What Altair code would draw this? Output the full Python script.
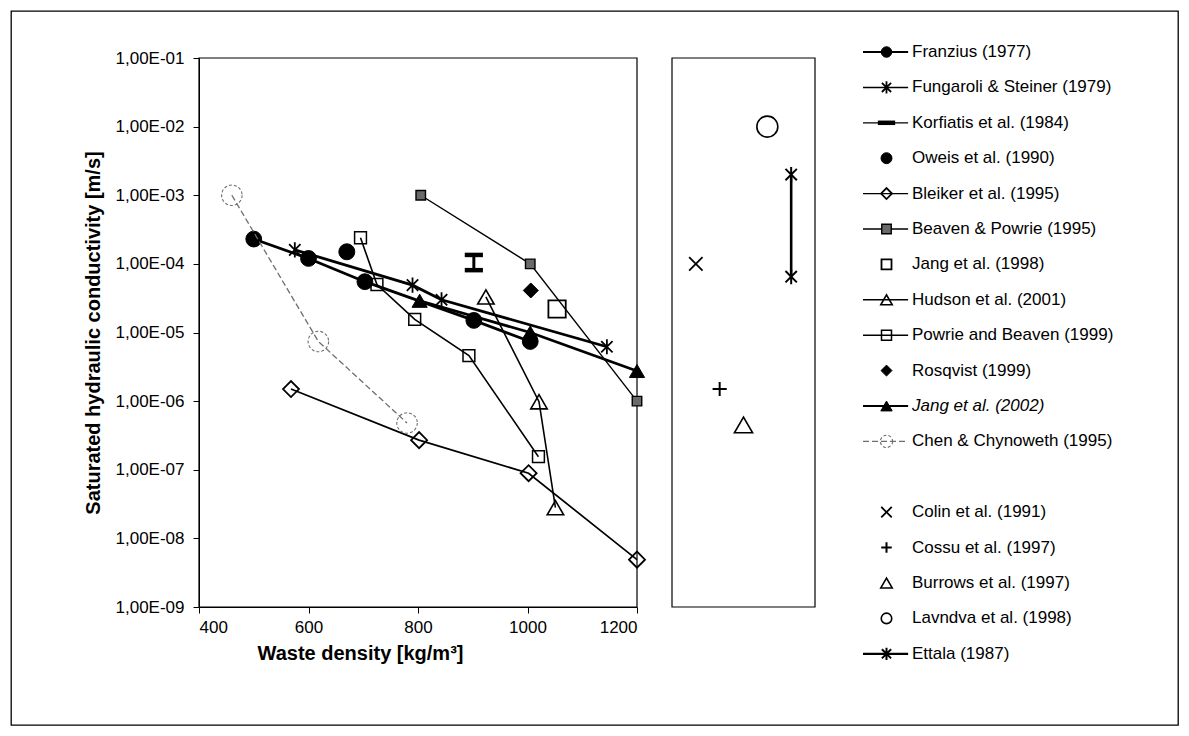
import altair as alt
import pandas as pd

# ---------------- data ----------------
franzius_rho = [500, 600, 703, 902, 1005]
franzius_k = [2.3e-4, 1.2e-4, 5.5e-5, 1.5e-5, 7.4e-6]
fungaroli_rho = [575, 790, 843, 1145]
fungaroli_k = [1.6e-4, 4.9e-5, 3.0e-5, 6.2e-6]
korfiatis_rho = [902, 902]
korfiatis_k = [1.35e-4, 8.1e-5]
oweis_rho = [670]
oweis_k = [1.5e-4]
bleiker_rho = [568, 802, 1002, 1200]
bleiker_k = [1.5e-6, 2.7e-7, 8.9e-8, 4.9e-9]
beaven_rho = [805, 1005, 1200]
beaven_k = [1.0e-3, 1.0e-4, 1.0e-6]
jang98_rho = [1054]
jang98_k = [2.2e-5]
hudson_rho = [924, 1021, 1051]
hudson_k = [3.3e-5, 9.8e-7, 2.8e-8]
powrie_rho = [695, 725, 794, 893, 1020]
powrie_k = [2.4e-4, 5.0e-5, 1.55e-5, 4.6e-6, 1.55e-7]
rosqvist_rho = [1006]
rosqvist_k = [4.1e-5]
jang02_rho = [803, 1005, 1200]
jang02_k = [2.9e-5, 1.0e-5, 2.75e-6]
chen_rho = [460, 618, 780]
chen_k = [1.0e-3, 7.4e-6, 4.8e-7]

# right panel (no density given): one column per study
colin_k = [1.0e-4]
cossu_k = [1.5e-6]
burrows_k = [4.5e-7]
lavndva_k = [1.0e-2]
ettala_k = [2.0e-3, 6.5e-5]

x_ticks = [400, 600, 800, 1000, 1200]
y_ticks = [1e-9, 1e-8, 1e-7, 1e-6, 1e-5, 1e-4, 1e-3, 1e-2, 1e-1]

# ---------------- styling ----------------
FONT = "Liberation Sans"
W, H = 1167, 714
STAR = "M-0.75,-0.75L0.75,0.75M-0.75,0.75L0.75,-0.75M0,-1L0,1"
XMARK = "M-1,-1L1,1M-1,1L1,-1"
PLUS = "M-1,0L1,0M0,-1L0,1"
DASH = "M-1,0L1,0"

main_series = [
    ("Franzius (1977)", franzius_rho, franzius_k,
     dict(lw=2.8, llw=2.0, shape="circle", fill="black", size=250, lsize=110)),
    ("Fungaroli & Steiner (1979)", fungaroli_rho, fungaroli_k,
     dict(lw=2.8, llw=1.5, shape=STAR, size=230, sw=1.8, lsize=150)),
    ("Korfiatis et al. (1984)", korfiatis_rho, korfiatis_k,
     dict(lw=3, llw=1.2, shape=DASH, size=330, sw=4.5, lsize=300)),
    ("Oweis et al. (1990)", oweis_rho, oweis_k,
     dict(lw=0, shape="circle", fill="black", size=256, lsize=120)),
    ("Bleiker et al. (1995)", bleiker_rho, bleiker_k,
     dict(lw=1.7, llw=1.4, shape="diamond", size=256, sw=1.8, lsize=120)),
    ("Beaven & Powrie (1995)", beaven_rho, beaven_k,
     dict(lw=1.4, llw=1.3, shape="square", fill="#6a6a6a", size=90, sw=1.4, lsize=90)),
    ("Jang et al. (1998)", jang98_rho, jang98_k,
     dict(lw=0, shape="square", size=300, sw=1.8, lsize=100)),
    ("Hudson et al. (2001)", hudson_rho, hudson_k,
     dict(lw=1.6, llw=1.4, shape="triangle-up", size=270, sw=1.6, lsize=130)),
    ("Powrie and Beaven (1999)", powrie_rho, powrie_k,
     dict(lw=1.6, llw=1.4, shape="square", size=140, sw=1.5, lsize=100)),
    ("Rosqvist (1999)", rosqvist_rho, rosqvist_k,
     dict(lw=0, shape="diamond", fill="black", size=225, lsize=120)),
    ("Jang et al. (2002)", jang02_rho, jang02_k,
     dict(lw=2.8, llw=2.2, shape="triangle-up", fill="black", size=230, lsize=130, italic=True)),
    ("Chen & Chynoweth (1995)", chen_rho, chen_k,
     dict(lw=1.3, llw=1.1, color="#6e6e6e", dash=[6, 3], shape="circle", size=420, sw=1.1,
          pdash=[3, 2], lsize=150)),
]

right_series = [
    ("Colin et al. (1991)", colin_k, dict(lw=0, shape=XMARK, size=180, sw=1.8, lsize=110)),
    ("Cossu et al. (1997)", cossu_k, dict(lw=0, shape=PLUS, size=200, sw=2, lsize=110)),
    ("Burrows et al. (1997)", burrows_k, dict(lw=0, shape="triangle-up", size=330, sw=1.6, lsize=130)),
    ("Lavndva et al. (1998)", lavndva_k, dict(lw=0, shape="circle", size=440, sw=1.6, lsize=110)),
    ("Ettala (1987)", ettala_k, dict(lw=2.6, llw=2.2, shape=STAR, size=230, sw=2, lsize=150)),
]

xs = alt.Scale(domain=[x_ticks[0], x_ticks[-1]], range=[188, 626], nice=False, zero=False)
ys = alt.Scale(type="log", domain=[y_ticks[0], y_ticks[-1]], range=[596, 47], nice=False)
ps = alt.Scale(domain=[0, len(right_series) + 1], range=[661, 804], nice=False, zero=False)
n_rows = len(main_series) + 1 + len(right_series)
lys = alt.Scale(domain=[0, n_rows - 1], range=[41, 41 + 35.4 * (n_rows - 1)], nice=False, zero=False)
lxs = alt.Scale(domain=[0, 1], range=[852, 899], nice=False, zero=False)

x_axis = alt.Axis(values=x_ticks, format="d", offset=-(H - 596), title="Waste density [kg/m³]",
                  grid=False, tickSize=6, labelPadding=6, labelFont=FONT, labelFontSize=17,
                  labelColor="black", domainColor="black", tickColor="black",
                  titleFont=FONT, titleFontSize=20, titleFontWeight="bold", titleColor="black",
                  titlePadding=8, titleX=349)
y_axis = alt.Axis(values=y_ticks, labelExpr="'1,00E-0' + round(-log(datum.value)/LN10)",
                  offset=-188, title="Saturated hydraulic conductivity [m/s]", grid=False,
                  tickSize=6, labelPadding=9, labelFont=FONT, labelFontSize=17,
                  labelColor="black", domainColor="black", tickColor="black",
                  titleFont=FONT, titleFontSize=20, titleFontWeight="bold", titleColor="black",
                  titlePadding=12)


def point_mark(st, size_key="size"):
    color = st.get("color", "black")
    kw = dict(shape=st["shape"], size=st[size_key], opacity=1,
              strokeWidth=st.get("sw", 1))
    if "fill" in st:
        kw.update(filled=True, fill=st["fill"], stroke=color, fillOpacity=1)
    else:
        kw.update(filled=False, stroke=color)
    if "pdash" in st:
        kw["strokeDash"] = st["pdash"]
    return kw


def line_mark(st, width):
    kw = dict(stroke=st.get("color", "black"), strokeWidth=width, opacity=1)
    if "dash" in st:
        kw["strokeDash"] = st["dash"]
    return kw


# ---------------- main plot ----------------
X = alt.X("rho:Q", scale=xs, axis=x_axis)
Y = alt.Y("k:Q", scale=ys, axis=y_axis)

frame_df = pd.DataFrame({"rho": [x_ticks[0]], "rho2": [x_ticks[-1]],
                         "k": [y_ticks[0]], "k2": [y_ticks[-1]]})
main_layers = [alt.Chart(frame_df).mark_rect(fillOpacity=0, stroke="black", strokeWidth=1.2)
               .encode(x=X, x2="rho2:Q", y=Y, y2="k2:Q")]
for name, rho, k, st in main_series:
    df = pd.DataFrame({"rho": rho, "k": k, "series": name})
    if st["lw"] > 0:
        main_layers.append(alt.Chart(df).mark_line(**line_mark(st, st["lw"]))
                           .encode(x=X, y=Y, order="rho:Q"))
    main_layers.append(alt.Chart(df).mark_point(**point_mark(st)).encode(x=X, y=Y))
main = alt.layer(*main_layers)

# ---------------- right panel ----------------
PX = alt.X("pos:Q", scale=ps, axis=None)
PY = alt.Y("k:Q", scale=ys, axis=None)
box_df = pd.DataFrame({"pos": [0], "pos2": [len(right_series) + 1],
                       "k": [y_ticks[0]], "k2": [y_ticks[-1]]})
panel_layers = [alt.Chart(box_df).mark_rect(fillOpacity=0, stroke="black", strokeWidth=1.2)
                .encode(x=PX, x2="pos2:Q", y=PY, y2="k2:Q")]
for i, (name, k, st) in enumerate(right_series):
    df = pd.DataFrame({"pos": [i + 1] * len(k), "k": k})
    if st["lw"] > 0:
        panel_layers.append(alt.Chart(df).mark_line(**line_mark(st, st["lw"])).encode(x=PX, y=PY))
    panel_layers.append(alt.Chart(df).mark_point(**point_mark(st)).encode(x=PX, y=PY))
panel = alt.layer(*panel_layers)

# ---------------- legend ----------------
LY = alt.Y("row:Q", scale=lys, axis=None)
legend_entries = [(n, st) for n, _, _, st in main_series] + [None] + \
                 [(n, st) for n, _, st in right_series]
legend_layers = []
for row, entry in enumerate(legend_entries):
    if entry is None:
        continue
    name, st = entry
    df = pd.DataFrame({"row": [row], "name": [name], "a": [0.0], "b": [0.96], "m": [0.5], "t": [1.0]})
    if st["lw"] > 0:
        legend_layers.append(alt.Chart(df).mark_rule(**line_mark(st, st.get("llw", 1.3)))
                             .encode(x=alt.X("a:Q", scale=lxs, axis=None), x2="b:Q", y=LY))
    legend_layers.append(alt.Chart(df).mark_point(**point_mark(st, "lsize"))
                         .encode(x=alt.X("m:Q", scale=lxs, axis=None), y=LY))
    legend_layers.append(alt.Chart(df).mark_text(align="left", baseline="middle", dx=2, font=FONT,
                                                 fontSize=17, color="black",
                                                 fontStyle="italic" if st.get("italic") else "normal")
                         .encode(x=alt.X("t:Q", scale=lxs, axis=None), y=LY, text="name:N"))
legend = alt.layer(*legend_layers)

chart = (alt.layer(main, panel, legend)
         .resolve_scale(x="independent", y="independent")
         .properties(width=W, height=H, padding=3, background="white")
         .configure_view(stroke="black", strokeWidth=1.3))

chart.save("out.html", embed_options={"renderer": "svg", "actions": False})
